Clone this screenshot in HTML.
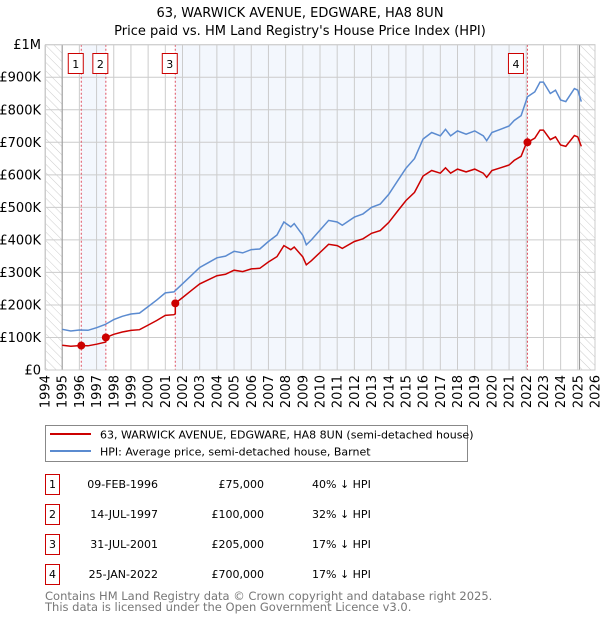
<!DOCTYPE html>
<html><head><meta charset="utf-8"><style>
body{margin:0;background:#fff;font-family:"DejaVu Sans","Liberation Sans",sans-serif;}
svg{display:block}
</style></head><body>
<svg width="600" height="620" viewBox="0 0 600 620" font-family="DejaVu Sans, Liberation Sans, sans-serif">
<defs><pattern id="hatch" width="6" height="6" patternUnits="userSpaceOnUse" patternTransform="rotate(-45)"><line x1="0" y1="0" x2="0" y2="6" stroke="#ccc" stroke-width="1"/></pattern></defs>
<text x="300" y="17" text-anchor="middle" font-size="13">63, WARWICK AVENUE, EDGWARE, HA8 8UN</text>
<text x="300" y="35" text-anchor="middle" font-size="13">Price paid vs. HM Land Registry's House Price Index (HPI)</text>
<g id="plot"></g>
<g>
<rect x="45.5" y="425.5" width="422" height="36" fill="#fff" stroke="#888"/>
<line x1="50" y1="434" x2="91" y2="434" stroke="#cc0000" stroke-width="2"/>
<text x="100" y="438.5" font-size="11">63, WARWICK AVENUE, EDGWARE, HA8 8UN (semi-detached house)</text>
<line x1="50" y1="451" x2="91" y2="451" stroke="#5b8bd0" stroke-width="2"/>
<text x="100" y="455.5" font-size="11">HPI: Average price, semi-detached house, Barnet</text>
</g>
<g id="table" font-size="11"></g>
<text x="45" y="600" font-size="11.5" fill="#777">Contains HM Land Registry data © Crown copyright and database right 2025.</text>
<text x="45" y="611" font-size="11.5" fill="#777">This data is licensed under the Open Government Licence v3.0.</text>
</svg>
<script>
const hpiYears=[1995,1995.5,1996,1996.5,1997,1997.5,1998,1998.5,1999,1999.5,2000,2000.5,2001,2001.5,2002,2002.5,2003,2003.5,2004,2004.5,2005,2005.5,2006,2006.5,2007,2007.5,2007.9,2008.3,2008.5,2009,2009.2,2009.5,2010,2010.5,2011,2011.3,2012,2012.5,2013,2013.5,2014,2014.5,2015,2015.5,2016,2016.5,2017,2017.3,2017.6,2018,2018.5,2019,2019.5,2019.7,2020,2020.5,2021,2021.3,2021.7,2022.07,2022.5,2022.8,2023,2023.4,2023.7,2024,2024.3,2024.8,2025,2025.2];
const hpiValues=[125,120,123,122,130,140,155,165,172,175,195,215,237,240,265,290,315,330,345,350,365,360,370,372,395,415,455,440,450,414,385,400,430,460,455,445,470,480,500,510,540,580,620,650,710,730,720,740,720,735,725,735,720,705,730,740,750,767,782,840,855,885,885,850,860,830,825,865,860,825];
const saleDates=[1996.11,1997.54,2001.58,2022.07];
const salePrices=[75,100,205,700];
const saleLabels=["1","2","3","4"];
const saleDateText=["09-FEB-1996","14-JUL-1997","31-JUL-2001","25-JAN-2022"];
const salePriceText=["£75,000","£100,000","£205,000","£700,000"];
const saleHpiText=["40% ↓ HPI","32% ↓ HPI","17% ↓ HPI","17% ↓ HPI"];
const yTicks=[0,100,200,300,400,500,600,700,800,900,1000];
const yTickLabels=["£0","£100K","£200K","£300K","£400K","£500K","£600K","£700K","£800K","£900K","£1M"];
const xTicks=[1994,1995,1996,1997,1998,1999,2000,2001,2002,2003,2004,2005,2006,2007,2008,2009,2010,2011,2012,2013,2014,2015,2016,2017,2018,2019,2020,2021,2022,2023,2024,2025,2026];

const L=45,R=595,T=44.7,B=370,X0=1994,X1=2026;
const sx=v=>L+(v-X0)/(X1-X0)*(R-L);
const sy=v=>B-v/1000*(B-T);
const NS="http://www.w3.org/2000/svg";
const plot=document.getElementById('plot');
function mk(tag,attrs,parent){const e=document.createElementNS(NS,tag);for(const k in attrs)e.setAttribute(k,attrs[k]);(parent||plot).appendChild(e);return e;}
function hpiAt(t){if(t<=hpiYears[0])return hpiValues[0];for(let i=1;i<hpiYears.length;i++){if(t<=hpiYears[i]){const f=(t-hpiYears[i-1])/(hpiYears[i]-hpiYears[i-1]);return hpiValues[i-1]+f*(hpiValues[i]-hpiValues[i-1]);}}return hpiValues[hpiValues.length-1];}

let e=mk('rect',{x:L,y:T,width:R-L,height:B-T,fill:'#fff'});


for(let i=0;i<saleDates.length-1;i+=2){
 e=mk('rect',{x:sx(saleDates[i]),y:T,width:sx(saleDates[i+1])-sx(saleDates[i]),height:B-T,fill:'#eef3fc',opacity:0.7});
 
 
}
const lastData=hpiYears[hpiYears.length-1]-0.1;
e=mk('rect',{x:L,y:T,width:sx(1995)-L,height:B-T,fill:'url(#hatch)'});


e=mk('rect',{x:sx(lastData),y:T,width:R-sx(lastData),height:B-T,fill:'url(#hatch)'});


yTicks.forEach((v,i)=>{
 e=mk('line',{x1:L,x2:R,y1:sy(v),y2:sy(v),stroke:'#ccc','stroke-width':1});
 
 
 e=mk('text',{x:L-4,y:sy(v)+4.5,'text-anchor':'end','font-size':13});
 e.textContent=yTickLabels[i];
 
 
});
xTicks.forEach(v=>{
 e=mk('line',{x1:sx(v),x2:sx(v),y1:T,y2:B,stroke:'#ccc','stroke-width':1});
 
 
 e=mk('text',{x:0,y:0,'text-anchor':'end','font-size':13,transform:`translate(${sx(v)+4.5},${B+5}) rotate(-90)`});
 e.textContent=v;
 
 
});
e=mk('line',{x1:sx(1995),x2:sx(1995),y1:T,y2:B,stroke:'#999'});


e=mk('line',{x1:sx(lastData),x2:sx(lastData),y1:T,y2:B,stroke:'#999'});


saleDates.forEach((d,i)=>{
 e=mk('line',{x1:sx(d),x2:sx(d),y1:T,y2:B,stroke:'#e05060','stroke-width':1,'stroke-dasharray':'2,2'});
 
 
 const bx=sx(d)-(i==3?16:10)-3;
 e=mk('rect',{x:bx,y:53.5,width:15,height:20,fill:'#fff',stroke:'#cc0000'});
 
 
 e=mk('text',{x:bx+7.5,y:68,'text-anchor':'middle','font-size':11});
 e.textContent=saleLabels[i];
 
 
});
let pts=hpiYears.map((t,i)=>sx(t).toFixed(1)+','+sy(hpiValues[i]).toFixed(1));
e=mk('polyline',{points:pts.join(' '),fill:'none',stroke:'#5b8bd0','stroke-width':1.5});


function ratioFor(t){let k=0;for(let i=0;i<saleDates.length;i++)if(t>=saleDates[i])k=i;return salePrices[k]/hpiAt(saleDates[k]);}
let times=Array.from(new Set(hpiYears.concat(saleDates))).sort((a,b)=>a-b);
let rp=[];
times.forEach(t=>{
 const idx=saleDates.indexOf(t);
 if(idx>0){rp.push(sx(t).toFixed(1)+','+sy(hpiAt(t)*salePrices[idx-1]/hpiAt(saleDates[idx-1])).toFixed(1));}
 rp.push(sx(t).toFixed(1)+','+sy(hpiAt(t)*ratioFor(t)).toFixed(1));
});
e=mk('polyline',{points:rp.join(' '),fill:'none',stroke:'#cc0000','stroke-width':1.5});


saleDates.forEach((d,i)=>{
 e=mk('circle',{cx:sx(d),cy:sy(salePrices[i]),r:4,fill:'#cc0000'});
 
 
});
e=mk('rect',{x:L+0.5,y:T,width:R-L-0.5,height:B-T,fill:'none',stroke:'#ccc'});


const tb=document.getElementById('table');
saleLabels.forEach((s,i)=>{
 const cy=484+30*i;
 e=mk('rect',{x:45.5,y:cy-9.5,width:14,height:20,fill:'#fff',stroke:'#cc0000'},tb);
 
 
 e=mk('text',{x:52.5,y:cy+4,'text-anchor':'middle'},tb);e.textContent=s;
 
 
 e=mk('text',{x:158,y:cy+4,'text-anchor':'end'},tb);e.textContent=saleDateText[i];
 
 
 e=mk('text',{x:264,y:cy+4,'text-anchor':'end'},tb);e.textContent=salePriceText[i];
 
 
 e=mk('text',{x:312,y:cy+4},tb);e.textContent=saleHpiText[i];
 
 
});
</script>
</body></html>
